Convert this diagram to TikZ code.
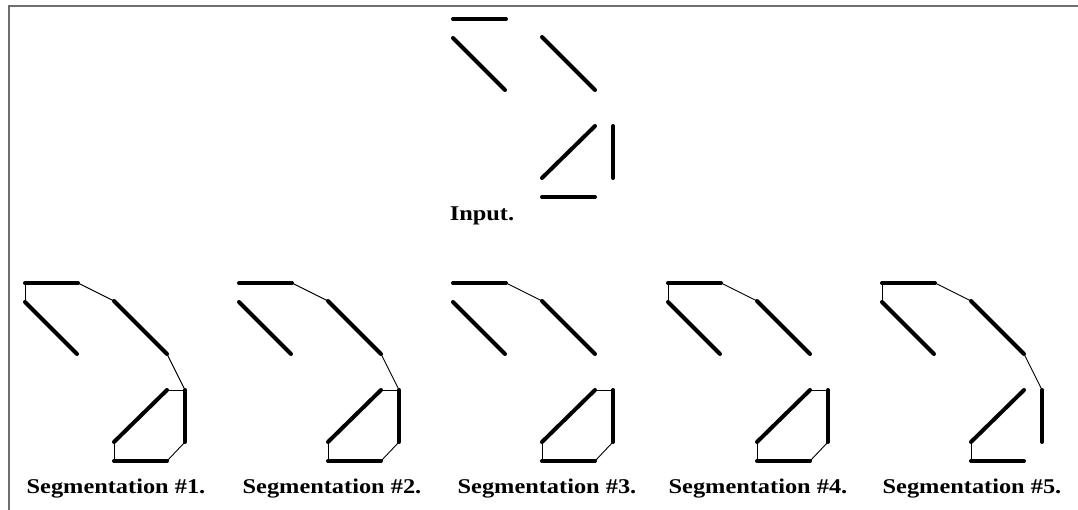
\documentclass[tikz,border=0pt]{standalone}
\usepackage{fontspec}
\setmainfont{Liberation Serif}
\newfontfamily\capfont[FakeStretch=1.16]{Liberation Serif}
\usepackage{tikz}
\usetikzlibrary{positioning,calc}
\definecolor{framegray}{RGB}{110,110,110}
\tikzset{
  sgm/.style={black, line width=4pt, line cap=round},
  lnk/.style={black, line width=0.9pt},
  frm/.style={framegray, line width=2.5pt},
  lbl/.style={font=\capfont\bfseries\fontsize{21}{21}\selectfont, inner sep=0pt},
}

\begin{document}
\begin{tikzpicture}[x=1pt, y=-1pt]
  \useasboundingbox (0,0) rectangle (1078,510);
  \draw[frm] (9,510) -- (9,6) -- (1078,6);
  % the six line sets: input and five segmentations
  \foreach \p/\ox/\oy in {in/453/19, s1/25/283, s2/239/283, s3/453/283, s4/668/283, s5/882/283} {
    \begin{scope}[shift={(\ox,\oy)}]
      \coordinate (\p-h1a) at (0,0);    \coordinate (\p-h1b) at (53,0);
      \coordinate (\p-d1a) at (0,19);   \coordinate (\p-d1b) at (52,71);
      \coordinate (\p-d2a) at (89,18);  \coordinate (\p-d2b) at (142,71);
      \coordinate (\p-d3a) at (89,159); \coordinate (\p-d3b) at (142,107);
      \coordinate (\p-va) at (160,107); \coordinate (\p-vb) at (160,159);
      \coordinate (\p-h2a) at (89,178); \coordinate (\p-h2b) at (142,178);
      \draw[sgm] (\p-h1a) -- (\p-h1b);
      \draw[sgm] (\p-d1a) -- (\p-d1b);
      \draw[sgm] (\p-d2a) -- (\p-d2b);
      \draw[sgm] (\p-d3a) -- (\p-d3b);
      \draw[sgm] (\p-va) -- (\p-vb);
      \draw[sgm] (\p-h2a) -- (\p-h2b);
    \end{scope}
  }
  % grouping links
  \foreach \p/\a/\b in {s1/h1a/d1a, s1/h1b/d2a, s1/d2b/va, s1/d3b/va, s1/vb/h2b, s1/h2a/d3a,
                        s2/h1b/d2a, s2/d2b/va, s2/d3b/va, s2/vb/h2b, s2/h2a/d3a,
                        s3/h1b/d2a, s3/d3b/va, s3/vb/h2b, s3/h2a/d3a,
                        s4/h1a/d1a, s4/h1b/d2a, s4/d3b/va, s4/vb/h2b, s4/h2a/d3a,
                        s5/h1a/d1a, s5/h1b/d2a, s5/d2b/va, s5/h2a/d3a}
    \draw[lnk] (\p-\a) -- (\p-\b);
  \node[lbl] (inlab) at (482,216) {Input.};
  \foreach \i/\cx in {1/116, 2/332, 3/547, 4/758, 5/972}
    \node[lbl] (seglab\i) at (\cx,489) {Segmentation \#\i.};
\end{tikzpicture}
\end{document}
